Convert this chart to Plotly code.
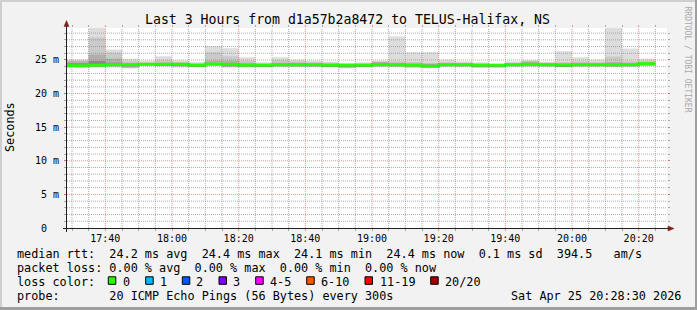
import plotly.graph_objects as go
import pandas as pd

# ---------------- data ----------------
DAY = "2026-04-25"
TIMES = ["17:25", "17:30", "17:35", "17:40", "17:45", "17:50", "17:55",
         "18:00", "18:05", "18:10", "18:15", "18:20", "18:25", "18:30",
         "18:35", "18:40", "18:45", "18:50", "18:55", "19:00", "19:05",
         "19:10", "19:15", "19:20", "19:25", "19:30", "19:35", "19:40",
         "19:45", "19:50", "19:55", "20:00", "20:05", "20:10", "20:15",
         "20:20"]

# smoke: outer (max/min) to inner layers, ms
MAX_MS = [25.1, 25.1, 30.4, 26.55, 25.2, 24.9, 25.55, 24.95, 24.7, 27.05, 26.75, 25.4,
          24.65, 25.4, 25.05, 24.9, 24.75, 24.55, 24.65, 24.9, 28.5, 26.15, 26.15,
          25.05, 24.8, 24.65, 24.45, 24.8, 24.95, 24.75, 26.3, 25.4, 25.05, 30.4,
          26.7, 25.2]
UP2_MS = [24.9, 24.9, 28.35, 26.1, 24.8, 24.6, 25.0, 24.7, 24.5, 26.15, 25.55, 24.9,
          24.5, 25.0, 24.8, 24.7, 24.6, 24.4, 24.5, 24.8, 24.8, 24.7, 24.6,
          24.7, 24.6, 24.5, 24.4, 24.6, 24.85, 24.6, 24.7, 24.8, 24.7, 25.5,
          24.8, 24.9]
UP3_MS = [24.8, 24.8, 25.8, 25.2, 24.6, 24.5, 24.6, 24.5, 24.4, 24.9, 24.9, 24.6,
          24.4, 24.6, 24.6, 24.5, 24.45, 24.35, 24.4, 24.7, 24.6, 24.5, 24.45,
          24.5, 24.5, 24.4, 24.35, 24.5, 24.75, 24.5, 24.5, 24.6, 24.5, 24.7,
          24.6, 24.7]
UP4_MS = [24.5, 24.5, 24.85, 24.6, 24.4, 24.4, 24.45, 24.4, 24.3, 24.5, 24.5, 24.4,
          24.3, 24.4, 24.45, 24.4, 24.35, 24.3, 24.3, 24.5, 24.4, 24.4, 24.3,
          24.4, 24.4, 24.3, 24.3, 24.4, 24.5, 24.4, 24.35, 24.4, 24.4, 24.45,
          24.4, 24.55]
MEDIAN_MS = [24.15, 24.15, 24.2, 24.3, 24.3, 24.35, 24.35, 24.35, 24.2, 24.4, 24.35, 24.2,
             24.2, 24.3, 24.3, 24.3, 24.2, 24.2, 24.2, 24.3, 24.3, 24.2, 24.05,
             24.3, 24.3, 24.2, 24.2, 24.3, 24.35, 24.3, 24.25, 24.3, 24.3, 24.3,
             24.3, 24.45]
LO4_MS = [24.1, 24.1, 24.1, 24.2, 24.1, 24.3, 24.25, 24.2, 24.1, 24.3, 24.1, 24.1,
          24.1, 24.2, 24.1, 24.1, 24.1, 24.0, 24.1, 24.2, 24.1, 24.1, 24.0,
          24.2, 24.2, 24.0, 24.0, 24.2, 24.2, 24.2, 24.1, 24.2, 24.2, 24.1,
          24.2, 24.25]
LO3_MS = [24.05, 24.05, 24.05, 24.1, 23.9, 24.2, 24.2, 24.1, 24.05, 24.2, 24.0, 24.0,
          24.05, 24.1, 24.05, 24.05, 24.05, 23.9, 24.05, 24.1, 24.05, 24.0, 23.95,
          24.1, 24.1, 23.95, 23.95, 24.1, 24.1, 24.1, 24.05, 24.1, 24.1, 24.05,
          24.1, 24.2]
LO2_MS = [24.0, 24.0, 24.0, 24.0, 23.8, 24.15, 24.1, 24.0, 24.0, 24.15, 23.95, 23.95,
          24.0, 24.0, 24.0, 24.0, 24.0, 23.8, 24.0, 24.05, 24.0, 23.9, 23.9,
          24.05, 24.0, 23.9, 23.9, 24.05, 24.05, 24.05, 24.0, 24.05, 24.05, 24.0,
          24.05, 24.15]
MIN_MS = [23.9, 23.9, 23.9, 23.9, 23.75, 24.1, 24.05, 23.9, 23.95, 24.1, 23.9, 23.9,
          23.95, 23.95, 23.95, 23.95, 23.95, 23.75, 23.95, 24.0, 23.95, 23.85, 23.85,
          24.0, 23.95, 23.85, 23.85, 24.0, 24.0, 24.0, 23.95, 24.0, 24.0, 23.95,
          24.0, 24.1]

Y_TICKS = [0, 5, 10, 15, 20, 25]
Y_TICKTEXT = ["0\u00a0\u00a0", "5 m", "10 m", "15 m", "20 m", "25 m"]
LOSS_LABELS = ["0", "1", "2", "3", "4-5", "6-10", "11-19", "20/20"]
LOSS_COLORS = ["#26ff00", "#00b8ff", "#0059ff", "#7e00ff", "#ff00ff",
               "#ff5500", "#ff0000", "#a00000"]

TITLE = "Last 3 Hours from d1a57b2a8472 to TELUS-Halifax, NS"
Y_TITLE = "Seconds"
STATS_RTT = "median rtt:  24.2 ms avg  24.4 ms max  24.1 ms min  24.4 ms now  0.1 ms sd  394.5   am/s"
STATS_LOSS = "packet loss: 0.00 % avg  0.00 % max  0.00 % min  0.00 % now"
LOSS_TITLE = "loss color:"
PROBE = "probe:       20 ICMP Echo Pings (56 Bytes) every 300s"
STAMP = "Sat Apr 25 20:28:30 2026"
WATERMARK = "RRDTOOL / TOBI OETIKER"

X_START = f"{DAY} 17:28:30"
X_END = f"{DAY} 20:28:30"
Y_MAX = 29.76

# ---------------- geometry helpers ----------------
W, H = 697, 310
L, R, T, B = 67, 30, 28, 82
PW, PH = W - L - R, H - T - B


def PX(x):
    return (x - L) / PW


def PY(y):
    return (H - B - y) / PH


def nb(s):
    return s.replace(" ", "\u00a0")


MONO = "DejaVu Sans Mono"
STEP = pd.Timedelta(minutes=5)
starts = pd.to_datetime([f"{DAY} {t}" for t in TIMES])
centers = starts + STEP / 2

fig = go.Figure()

layers = [(MIN_MS, MAX_MS, "#dddddd"),
          (LO2_MS, UP2_MS, "#cacaca"),
          (LO3_MS, UP3_MS, "#b0b0b0"),
          (LO4_MS, UP4_MS, "#8a8a8a")]
for lo, hi, col in layers:
    fig.add_trace(go.Bar(
        x=centers, base=lo, y=[h - l for h, l in zip(hi, lo)],
        width=STEP.total_seconds() * 1000,
        marker=dict(color=col, line=dict(width=0)),
        hoverinfo="skip"))

fig.add_trace(go.Scatter(
    x=list(starts) + [starts[-1] + STEP],
    y=MEDIAN_MS + [MEDIAN_MS[-1]],
    mode="lines", line=dict(color=LOSS_COLORS[0], width=3, shape="hv"),
    hoverinfo="skip"))

GRID = "rgba(143,143,143,0.75)"
MGRID = "rgba(222,79,79,0.6)"

shapes = []
# horizontal grid
v = 1
while v < Y_MAX:
    shapes.append(dict(type="line", xref="paper", yref="y", x0=0, x1=1, y0=v, y1=v,
                       line=dict(color=MGRID if v % 5 == 0 else GRID, width=1, dash="1px,1px"),
                       layer="above"))
    v += 1
# vertical grid
for t in pd.date_range(f"{DAY} 17:30", f"{DAY} 20:25", freq="5min"):
    major = t.minute % 20 == 0
    shapes.append(dict(type="line", xref="x", yref="paper", x0=t, x1=t, y0=0, y1=1,
                       line=dict(color=MGRID if major else GRID, width=1, dash="1px,1px"),
                       layer="above"))

AXIS = "#1f1f1f"
ARROW = "#801f1f"
shapes += [
    dict(type="line", xref="paper", yref="paper", x0=PX(63), x1=PX(670), y0=PY(228.5), y1=PY(228.5),
         line=dict(color=AXIS, width=1), layer="above"),
    dict(type="line", xref="paper", yref="paper", x0=PX(66.5), x1=PX(66.5), y0=PY(232), y1=PY(24),
         line=dict(color=AXIS, width=1), layer="above"),
    dict(type="path", xref="paper", yref="paper",
         path=f"M {PX(64.0)} {PY(26.5)} L {PX(69.0)} {PY(26.5)} L {PX(66.5)} {PY(20.5)} Z",
         fillcolor=ARROW, line=dict(color=ARROW, width=0.5), layer="above"),
    dict(type="path", xref="paper", yref="paper",
         path=f"M {PX(668)} {PY(226)} L {PX(668)} {PY(231)} L {PX(674)} {PY(228.5)} Z",
         fillcolor=ARROW, line=dict(color=ARROW, width=0.5), layer="above"),
    # 3d frame
    dict(type="rect", xref="paper", yref="paper", x0=PX(0), x1=PX(697), y0=PY(0), y1=PY(2),
         fillcolor="#cfcfcf", line=dict(width=0), layer="above"),
    dict(type="rect", xref="paper", yref="paper", x0=PX(0), x1=PX(2), y0=PY(0), y1=PY(310),
         fillcolor="#cfcfcf", line=dict(width=0), layer="above"),
    dict(type="rect", xref="paper", yref="paper", x0=PX(0), x1=PX(697), y0=PY(307), y1=PY(310),
         fillcolor="#9e9e9e", line=dict(width=0), layer="above"),
    dict(type="rect", xref="paper", yref="paper", x0=PX(695), x1=PX(697), y0=PY(0), y1=PY(310),
         fillcolor="#9e9e9e", line=dict(width=0), layer="above"),
]

# loss-colour boxes
BOX_X = [108.3, 145.7, 182.3, 219.0, 255.7, 306.7, 365.0, 430.7]
LAB_X = [121.8, 158.6, 195.2, 231.9, 268.6, 319.9, 378.5, 444.2]
for bx, col in zip(BOX_X, LOSS_COLORS):
    shapes.append(dict(type="rect", xref="paper", yref="paper",
                       x0=PX(bx), x1=PX(bx + 7.5), y0=PY(276.8), y1=PY(284.3),
                       fillcolor=col, line=dict(color="#000000", width=1), layer="above"))

LEG = 11.8
ann = []


def text(x, y, s, size=LEG, xanchor="left", angle=0, color="#000000"):
    ann.append(dict(x=PX(x), y=PY(y), xref="paper", yref="paper", text=nb(s),
                    showarrow=False, xanchor=xanchor, yanchor="middle", textangle=angle,
                    borderpad=0, font=dict(family=MONO, size=size, color=color)))


text(347.5, 19.0, TITLE, size=13.2, xanchor="center")
text(10, 127, Y_TITLE, angle=-90, xanchor="center")
text(687.5, 59, WATERMARK, size=8, angle=90, xanchor="center", color="#a8a8a8")
text(15.5, 254.2, STATS_RTT)
text(15.5, 268.2, STATS_LOSS)
text(15.5, 281.8, LOSS_TITLE)
for lx, lab in zip(LAB_X, LOSS_LABELS):
    text(lx, 281.8, lab)
text(15.5, 295.8, PROBE)
text(681.5, 295.8, STAMP, xanchor="right")

fig.update_layout(
    width=W, height=H, margin=dict(l=L, r=R, t=T, b=B, pad=0),
    paper_bgcolor="#f2f2f2", plot_bgcolor="#ffffff",
    showlegend=False, barmode="overlay",
    font=dict(family=MONO, size=10, color="#000000"),
    shapes=shapes, annotations=ann,
    xaxis=dict(range=[X_START, X_END], type="date", showgrid=False, zeroline=False,
               showline=False, tickformat="%H:%M", dtick=20 * 60 * 1000,
               tick0=f"{DAY} 17:40", ticks="outside", ticklen=2, tickcolor=MGRID,
               mirror="ticks",
               minor=dict(dtick=5 * 60 * 1000, tick0=f"{DAY} 17:30", ticks="outside",
                          ticklen=2, tickcolor=GRID, showgrid=False),
               tickfont=dict(family=MONO, size=10, color="#000000"), ticklabelstandoff=-1),
    yaxis=dict(range=[0, Y_MAX], showgrid=False, zeroline=False, showline=False,
               tickvals=Y_TICKS, ticktext=Y_TICKTEXT, ticks="outside", ticklen=2,
               tickcolor=MGRID, mirror="ticks",
               minor=dict(dtick=1, ticks="outside", ticklen=2, tickcolor=GRID, showgrid=False),
               tickfont=dict(family=MONO, size=10, color="#000000"), ticklabelstandoff=3),
)

fig.write_html("out.html")
